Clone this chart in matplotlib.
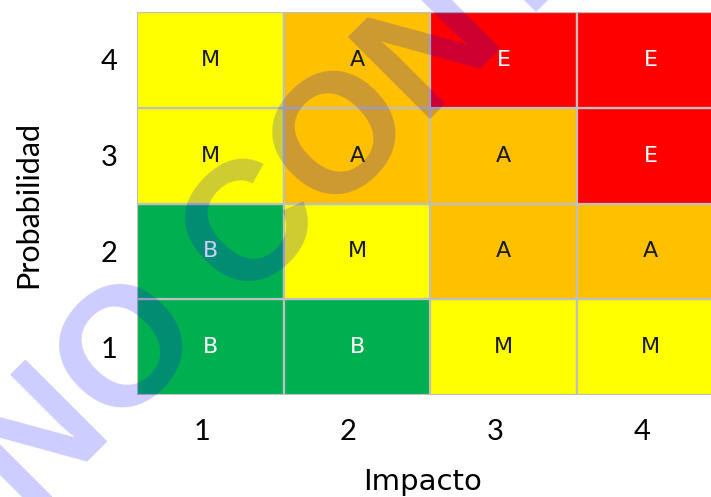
import matplotlib
matplotlib.use("Agg")
import matplotlib.pyplot as plt
from matplotlib.patches import Rectangle

# Risk matrix: rows = probability 1..4 (bottom to top), columns = impact 1..4
impact_labels = ["1", "2", "3", "4"]
probability_labels = ["1", "2", "3", "4"]
risk_levels = [
    ["B", "B", "M", "M"],   # probabilidad 1
    ["B", "M", "A", "A"],   # probabilidad 2
    ["M", "A", "A", "E"],   # probabilidad 3
    ["M", "A", "E", "E"],   # probabilidad 4
]
level_colors = {"B": "#00B050", "M": "#FFFF00", "A": "#FFC000", "E": "#FF0000"}
level_text_colors = {"B": "white", "M": "#1a1a1a", "A": "#1a1a1a", "E": "white"}
watermark_text = "NO CONTROLADO"

W, H = 711, 497
fig = plt.figure(figsize=(W / 100, H / 100), dpi=100)
ax = fig.add_axes([137 / W, (H - 395) / H, (724 - 137) / W, (395 - 12) / H])

for r, row in enumerate(risk_levels):
    for c, lvl in enumerate(row):
        ax.add_patch(Rectangle((c, r), 1, 1, facecolor=level_colors[lvl],
                               edgecolor="#BFBFBF", linewidth=1.6))
        ax.text(c + 0.5, r + 0.5, lvl, ha="center", va="center",
                fontsize=16, color=level_text_colors[lvl],
                family="DejaVu Sans")

ax.set_xlim(0, 4)
ax.set_ylim(0, 4)
ax.set_xticks([i + 0.44 for i in range(4)])
ax.set_xticklabels(impact_labels, fontsize=21, family="Lato")
ax.set_yticks([i + 0.5 for i in range(4)])
ax.set_yticklabels(probability_labels, fontsize=21, family="Lato")
ax.tick_params(axis="x", length=0, pad=17)
ax.tick_params(axis="y", length=0, pad=14)
for s in ax.spines.values():
    s.set_visible(False)

fig.text(423 / W, 1 - 482 / H, "Impacto", ha="center", va="center",
         fontsize=21, family="DejaVu Sans")
fig.text(28 / W, 1 - 204 / H, "Probabilidad", ha="center", va="center",
         rotation=90, fontsize=22, family="Lato")

# Diagonal watermark drawn over everything
fig.text(30 / W, 1 - 520 / H, watermark_text, rotation=45,
         rotation_mode="anchor", ha="left", va="baseline",
         fontsize=122, family="Liberation Sans", fontweight="bold",
         color=(0, 0, 1, 0.2), zorder=10)

fig.savefig("out.png", dpi=100)
